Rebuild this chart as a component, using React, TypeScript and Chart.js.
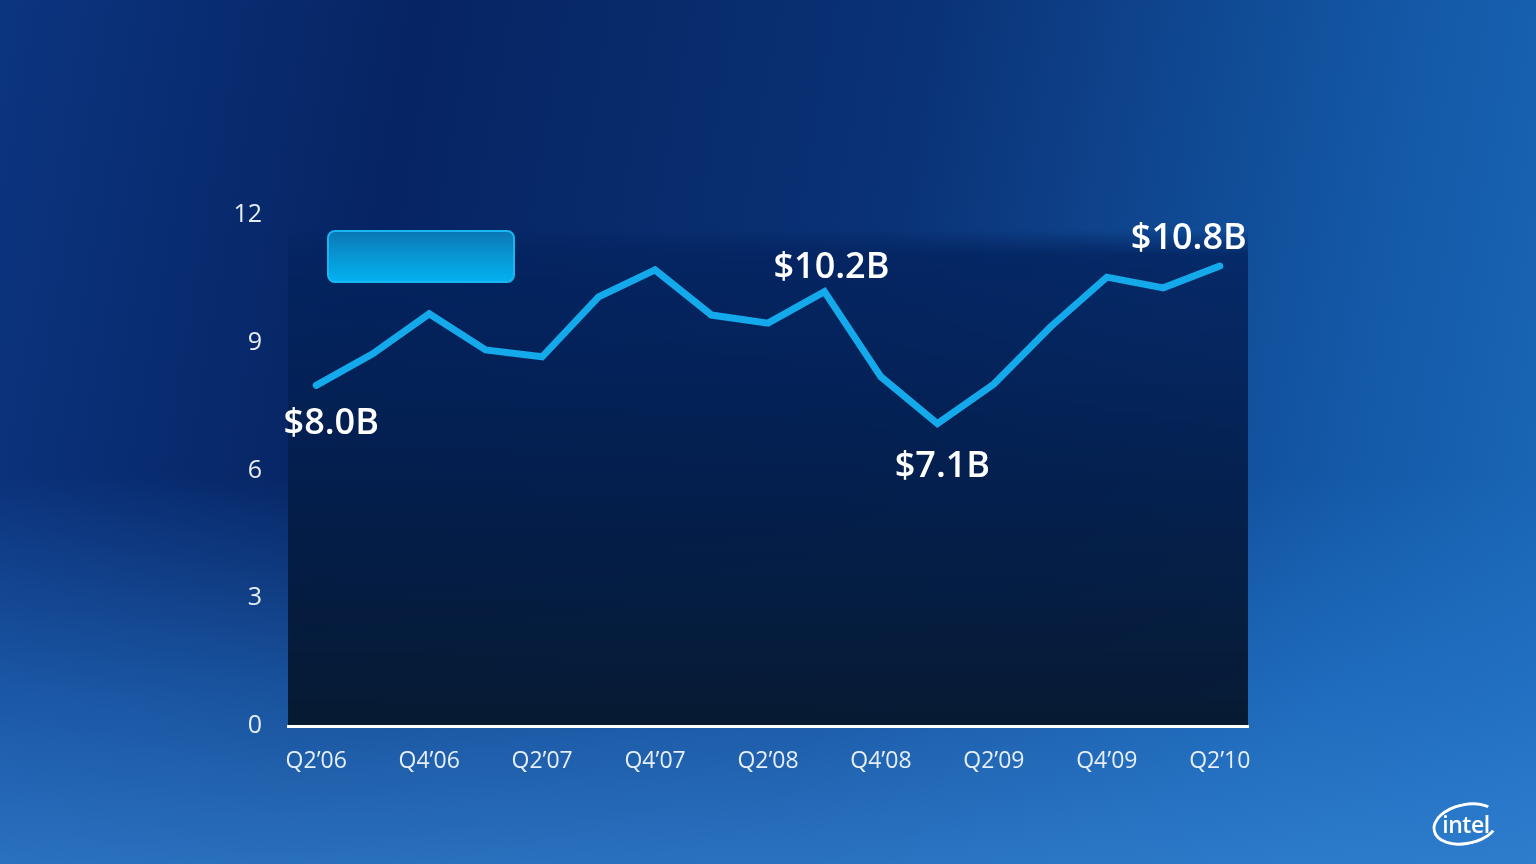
import React, { useEffect, useRef } from "react";
import { Chart, registerables } from "chart.js";

Chart.register(...registerables);

const quarters = [
  "Q2’06", "Q3’06", "Q4’06", "Q1’07", "Q2’07", "Q3’07", "Q4’07", "Q1’08",
  "Q2’08", "Q3’08", "Q4’08", "Q1’09", "Q2’09", "Q3’09", "Q4’09", "Q1’10", "Q2’10",
];
const revenue = [8.0, 8.74, 9.68, 8.83, 8.67, 10.08, 10.71, 9.65, 9.46, 10.2, 8.2, 7.1, 8.03, 9.37, 10.54, 10.29, 10.8];
const labeledPoints = [0, 9, 11, 16];
const yTicks = [0, 3, 6, 9, 12];

const FONT = "'Open Sans', 'Noto Sans', sans-serif";

const labelOffsets: Record<number, [number, number]> = {
  0: [15, 38],
  9: [7, -24],
  11: [5, 43],
  16: [-31, -27],
};

const panelPlugin = {
  id: "panel",
  beforeDraw(chart: any) {
    const { ctx, chartArea } = chart;
    const top = chartArea.top + 15;
    const g = ctx.createLinearGradient(0, top, 0, chartArea.bottom);
    g.addColorStop(0, "rgba(4,34,92,0.0)");
    g.addColorStop(0.05, "rgba(4,36,96,0.85)");
    g.addColorStop(0.5, "rgba(4,30,76,0.95)");
    g.addColorStop(1, "rgba(6,24,46,0.97)");
    ctx.save();
    ctx.fillStyle = g;
    ctx.fillRect(chartArea.left, top, chartArea.right - chartArea.left, chartArea.bottom - top);
    ctx.restore();
  },
};

const valueLabelPlugin = {
  id: "valueLabels",
  afterDatasetsDraw(chart: any) {
    const { ctx } = chart;
    const meta = chart.getDatasetMeta(0);
    const data = chart.data.datasets[0].data as number[];
    ctx.save();
    ctx.fillStyle = "#ffffff";
    ctx.font = `600 36px ${FONT}`;
    ctx.textAlign = "center";
    ctx.textBaseline = "middle";
    labeledPoints.forEach((i) => {
      const pt = meta.data[i];
      const [dx, dy] = labelOffsets[i];
      ctx.fillText(`$${data[i].toFixed(1)}B`, pt.x + dx, pt.y + dy);
    });
    ctx.restore();
  },
};

export default function App() {
  const ref = useRef<HTMLCanvasElement>(null);

  useEffect(() => {
    if (!ref.current) return;
    const chart = new Chart(ref.current, {
      type: "line",
      data: {
        labels: quarters,
        datasets: [
          {
            data: revenue,
            borderColor: "#13a9ea",
            borderWidth: 7,
            pointRadius: 0,
            tension: 0,
            borderCapStyle: "round",
            borderJoinStyle: "miter",
          },
        ],
      },
      options: {
        animation: false,
        responsive: false,
        maintainAspectRatio: false,
        layout: { padding: { left: 188, right: 288, top: 215, bottom: 78 } },
        plugins: { legend: { display: false }, tooltip: { enabled: false } },
        scales: {
          x: {
            offset: true,
            grid: { display: false, drawTicks: false },
            border: { display: true, color: "#ffffff", width: 3 },
            afterFit: (s: any) => { s.height = 60; },
            ticks: {
              autoSkip: false,
              maxRotation: 0,
              padding: 22,
              color: "#e6eef8",
              font: { family: FONT, size: 23 },
              callback: (_v: any, i: number) => (i % 2 === 0 ? quarters[i] : ""),
            },
          },
          y: {
            min: 0,
            max: 12,
            afterFit: (s: any) => { s.width = 100; },
            afterBuildTicks: (s: any) => { s.ticks = yTicks.map((v) => ({ value: v })); },
            grid: { display: false, drawTicks: false },
            border: { display: false },
            ticks: {
              padding: 26,
              color: "#e6eef8",
              font: { family: FONT, size: 25 },
            },
          },
        },
      },
      plugins: [panelPlugin, valueLabelPlugin],
    });
    return () => chart.destroy();
  }, []);

  return (
    <div
      style={{
        position: "fixed",
        left: 0,
        top: 0,
        width: 1536,
        height: 864,
        overflow: "hidden",
        background:
          "linear-gradient(to bottom, rgba(30,110,200,0) 55%, rgba(40,120,205,0.55) 80%, rgba(50,130,210,0.8) 100%), linear-gradient(100deg, #0c3580 0%, #062463 25%, #0a3276 55%, #145aa8 85%, #1b68b8 100%)",
      }}
    >
      <canvas ref={ref} width={1536} height={864} style={{ position: "absolute", left: 0, top: 0 }} />
      <div
        style={{
          position: "absolute",
          left: 327,
          top: 230,
          width: 188,
          height: 53,
          boxSizing: "border-box",
          border: "2px solid #1ab6f2",
          borderRadius: 8,
          background: "linear-gradient(to bottom, #0a78b4 0%, #0797d4 50%, #02b0f0 100%)",
        }}
      />
      <div
        style={{
          position: "absolute",
          left: 1432,
          top: 803,
          width: 68,
          height: 42,
          boxSizing: "border-box",
          border: "3px solid #ffffff",
          borderRightColor: "transparent",
          borderRadius: "50%",
          transform: "rotate(-12deg)",
        }}
      />
      <div
        style={{
          position: "absolute",
          left: 1438,
          top: 808,
          width: 56,
          textAlign: "center",
          color: "#ffffff",
          fontFamily: FONT,
          fontWeight: 600,
          fontSize: 23,
          letterSpacing: -0.5,
        }}
      >
        intel
      </div>
    </div>
  );
}
